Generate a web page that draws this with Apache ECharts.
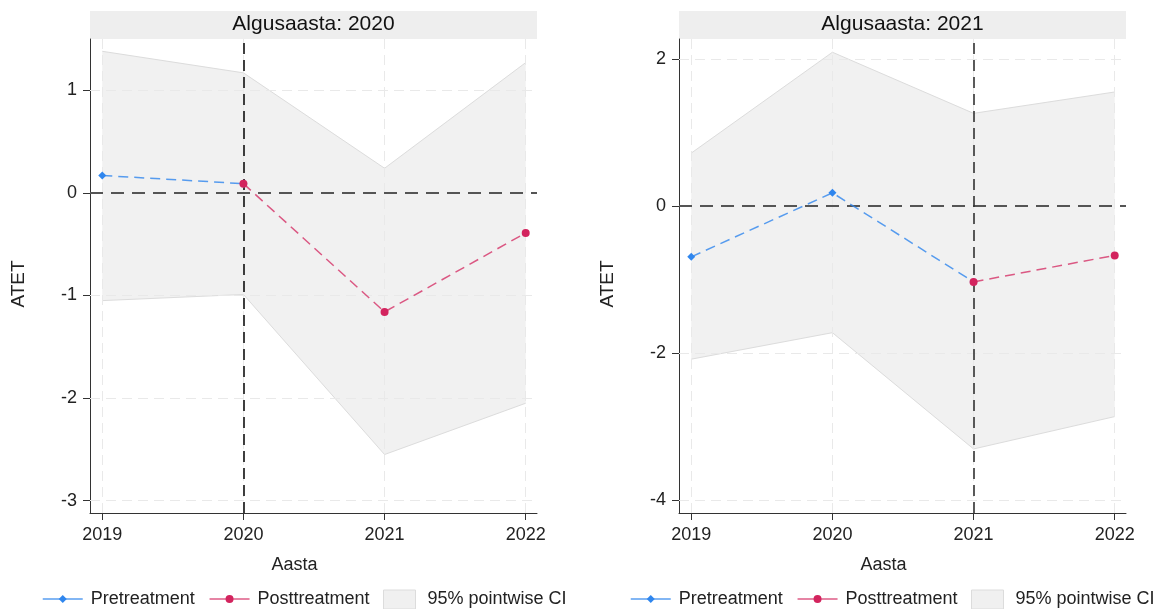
<!DOCTYPE html>
<html><head><meta charset="utf-8">
<script src="https://cdn.jsdelivr.net/npm/echarts@6/dist/echarts.min.js"></script>
<style>html,body{margin:0;padding:0;background:#fff}#c{width:1165px;height:609px}</style>
</head><body><div id="c"></div><script>
// ---- data ----
const years = [2019, 2020, 2021, 2022];
const xTickLabels = ['2019', '2020', '2021', '2022'];
const panelTitles = ['Algusaasta: 2020', 'Algusaasta: 2021'];
const treatYears = [2020, 2021];
const legendNames = ['Pretreatment', 'Posttreatment', '95% pointwise CI'];
const xAxisName = 'Aasta';
const yAxisName = 'ATET';

// Panel 1 (Algusaasta 2020)
const p1PreYears = [2019, 2020];
const p1Pre = [0.17, 0.09];
const p1PostYears = [2020, 2021, 2022];
const p1Post = [0.09, -1.16, -0.39];
const p1Upper = [1.38, 1.17, 0.24, 1.27];
const p1Lower = [-1.05, -0.99, -2.55, -2.05];
const p1YTicks = [-3, -2, -1, 0, 1];

// Panel 2 (Algusaasta 2021)
const p2PreYears = [2019, 2020, 2021];
const p2Pre = [-0.69, 0.18, -1.03];
const p2PostYears = [2021, 2022];
const p2Post = [-1.03, -0.67];
const p2Upper = [0.72, 2.09, 1.26, 1.55];
const p2Lower = [-2.08, -1.72, -3.30, -2.86];
const p2YTicks = [-4, -2, 0, 2];

// ---- layout / style ----
const FONT = '"Liberation Sans", Arial, sans-serif';
const BLUE = '#2f86ee';
const PINK = '#d3245e';
const TXT = '#222';
const panels = [
  {pre: [p1PreYears, p1Pre], post: [p1PostYears, p1Post], up: p1Upper, lo: p1Lower, ticks: p1YTicks,
   ymin: -3.12, ymax: 1.5, left: 90, right: 628, legL: 42, legCI: 383, vcol: '#111'},
  {pre: [p2PreYears, p2Pre], post: [p2PostYears, p2Post], up: p2Upper, lo: p2Lower, ticks: p2YTicks,
   ymin: -4.17, ymax: 2.27, left: 679, right: 39, legL: 630, legCI: 971, vcol: '#333'}
];
const GRID_TOP = 39, GRID_BOTTOM = 96, W = 1165;

function pairs(xs, ys) { return xs.map((x, i) => [x, ys[i]]); }

function bandRender(upper, lower) {
  return function (params, api) {
    if (params.dataIndex !== 0) return null;
    const top = years.map((y, i) => api.coord([y, upper[i]]));
    const bot = years.map((y, i) => api.coord([y, lower[i]]));
    return {
      type: 'group',
      children: [
        {type: 'polygon', shape: {points: top.concat(bot.slice().reverse())},
         style: {fill: 'rgba(205,205,205,0.27)'}},
        {type: 'polyline', shape: {points: top}, style: {stroke: '#dcdcdc', lineWidth: 1, fill: null}},
        {type: 'polyline', shape: {points: bot}, style: {stroke: '#dcdcdc', lineWidth: 1, fill: null}}
      ]
    };
  };
}

const grid = [], xAxis = [], yAxis = [], series = [], legend = [], title = [], graphic = [];
panels.forEach((p, k) => {
  grid.push({left: p.left, right: p.right, top: GRID_TOP, bottom: GRID_BOTTOM, containLabel: false});
  const gw = W - p.left - p.right;
  graphic.push({type: 'rect', shape: {x: p.left, y: 11, width: gw, height: 28}, style: {fill: '#eeeeee'}, z: 0});
  title.push({text: panelTitles[k], left: p.left + gw / 2, top: 14, textAlign: 'center', padding: 0,
    textStyle: {fontFamily: FONT, fontSize: 21, fontWeight: 'normal', color: '#111'}});
  xAxis.push({
    gridIndex: k, type: 'value', min: 2018.913, max: 2022.08,
    name: xAxisName, nameLocation: 'middle', nameGap: 43,
    nameTextStyle: {fontFamily: FONT, fontSize: 18, color: TXT, padding: [0, 38, 0, 0]},
    axisLine: {show: true, onZero: false, lineStyle: {color: '#333', width: 1}},
    axisTick: {show: true, length: 7, customValues: years, lineStyle: {color: '#333'}},
    axisLabel: {customValues: years, margin: 13, fontFamily: FONT, fontSize: 18, color: TXT,
      formatter: v => xTickLabels[years.indexOf(Math.round(v))]},
    splitLine: {show: false}
  });
  yAxis.push({
    gridIndex: k, type: 'value', min: p.ymin, max: p.ymax,
    name: yAxisName, nameLocation: 'middle', nameGap: 62,
    nameTextStyle: {fontFamily: FONT, fontSize: 19, color: TXT, padding: [0, 16, 0, 0]},
    axisLine: {show: true, onZero: false, lineStyle: {color: '#333', width: 1}},
    axisTick: {show: true, length: 7, customValues: p.ticks, lineStyle: {color: '#333'}},
    axisLabel: {customValues: p.ticks, margin: 13, fontFamily: FONT, fontSize: 18, color: TXT,
      formatter: v => String(Math.round(v))},
    splitLine: {show: false}
  });
  const gridStyle = {color: '#e9e9e9', width: 1, type: [10, 6]};
  const ml = [];
  years.forEach(y => ml.push({xAxis: y, lineStyle: gridStyle}));
  p.ticks.filter(v => v !== 0).forEach(v => ml.push({yAxis: v, lineStyle: gridStyle}));
  ml.push({yAxis: 0, lineStyle: {color: '#555', width: 2, type: [13, 8]}});
  ml.push({xAxis: treatYears[k], lineStyle: {color: p.vcol, width: 1.6, type: [11, 6]}});

  series.push({
    name: legendNames[2], type: 'custom', xAxisIndex: k, yAxisIndex: k, z: 1,
    data: years.map((y, i) => [y, p.lo[i], p.up[i]]),
    encode: {x: 0, y: [1, 2]},
    renderItem: bandRender(p.up, p.lo),
    itemStyle: {color: '#f0f0f0'}
  });
  series.push({
    name: legendNames[0], type: 'line', xAxisIndex: k, yAxisIndex: k, z: 10,
    data: pairs(p.pre[0], p.pre[1]),
    symbol: 'diamond', symbolSize: 8,
    lineStyle: {color: BLUE, width: 1.5, type: [10, 6], opacity: 0.8},
    itemStyle: {color: BLUE},
    markLine: {silent: true, symbol: 'none', label: {show: false}, animation: false, data: ml}
  });
  series.push({
    name: legendNames[1], type: 'line', xAxisIndex: k, yAxisIndex: k, z: 11,
    data: pairs(p.post[0], p.post[1]),
    symbol: 'circle', symbolSize: 8,
    lineStyle: {color: PINK, width: 1.5, type: [10, 6], opacity: 0.75},
    itemStyle: {color: PINK}
  });
  legend.push({
    left: p.legL, top: 590, padding: 0, itemWidth: 40, itemHeight: 10, itemGap: 14,
    selectedMode: false,
    data: [legendNames[0], legendNames[1]],
    lineStyle: {type: 'solid', width: 1.5},
    textStyle: {fontFamily: FONT, fontSize: 18, color: TXT, padding: [0, 0, 0, 3]}
  });
  legend.push({
    left: p.legCI, top: 589.5, padding: 0, itemWidth: 32, itemHeight: 19,
    selectedMode: false,
    data: [{name: legendNames[2], icon: 'rect', itemStyle: {color: '#f0f0f0', borderColor: '#dcdcdc', borderWidth: 1}}],
    textStyle: {fontFamily: FONT, fontSize: 18, color: TXT, padding: [0, 0, 0, 7]}
  });
});

const chart = echarts.init(document.getElementById('c'), null, {renderer: 'canvas'});
chart.setOption({
  animation: false,
  backgroundColor: '#ffffff',
  textStyle: {fontFamily: FONT},
  title, grid, xAxis, yAxis, series, legend, graphic
});
</script></body></html>
